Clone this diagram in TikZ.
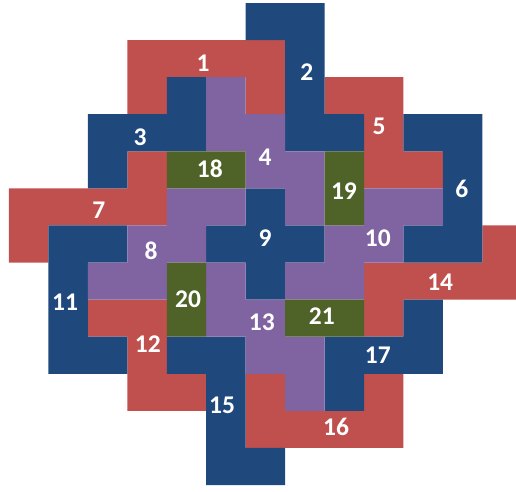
\documentclass[tikz,border=0pt]{standalone}
\usepackage{fontspec}
\setsansfont{Carlito}
\usepackage{tikz}

\definecolor{pcred}{HTML}{C0504D}
\definecolor{pcblue}{HTML}{1F497D}
\definecolor{pcpurple}{HTML}{8064A2}
\definecolor{pcgreen}{HTML}{4F6228}

% one piece = one filled path of unit cells (column/row)
\newcommand{\piece}[2]{\fill[#1] \foreach \c/\r in {#2} {(\c,\r) rectangle ++(1,1)};}

\begin{document}
\begin{tikzpicture}[
        x=0.789cm, y=-0.7416cm,
        num/.style={text=white, font=\sffamily\bfseries\fontsize{14.5}{16}\selectfont, inner sep=0pt}
    ]
    \useasboundingbox (-0.228,-0.081) rectangle (12.852,13.161);
    \clip (-0.228,-0.081) rectangle (12.852,13.161);

    % red pieces
    \piece{pcred}{3/1,4/1,5/1,6/1,3/2,6/2}
    \piece{pcred}{8/2,9/2,9/3,9/4,10/4}
    \piece{pcred}{3/4,0/5,1/5,2/5,3/5,0/6}
    \piece{pcred}{12/6,9/7,10/7,11/7,12/7,9/8}
    \piece{pcred}{2/8,3/8,3/9,3/10,4/10}
    \piece{pcred}{6/10,9/10,6/11,7/11,8/11,9/11}

    % blue pieces
    \piece{pcblue}{6/0,7/0,7/1,7/2,7/3,8/3}
    \piece{pcblue}{4/2,2/3,3/3,4/3,2/4}
    \piece{pcblue}{10/3,11/3,11/4,11/5,10/6,11/6}
    \piece{pcblue}{6/5,5/6,6/6,7/6,6/7}
    \piece{pcblue}{1/6,2/6,1/7,1/8,1/9,2/9}
    \piece{pcblue}{10/8,8/9,9/9,10/9,8/10}
    \piece{pcblue}{4/9,5/9,5/10,5/11,5/12,6/12}

    % purple pieces
    \piece{pcpurple}{5/2,5/3,6/3,6/4,7/4,7/5}
    \piece{pcpurple}{4/5,5/5,3/6,4/6,2/7,3/7}
    \piece{pcpurple}{9/5,10/5,8/6,9/6,7/7,8/7}
    \piece{pcpurple}{5/7,5/8,6/8,6/9,7/9,7/10}

    % green pieces
    \piece{pcgreen}{4/4,5/4}
    \piece{pcgreen}{8/4,8/5}
    \piece{pcgreen}{4/7,4/8}
    \piece{pcgreen}{7/8,8/8}

    % numbers
    \node[num] (n1) at (4.92,1.62) {1};
    \node[num] (n2) at (7.55,1.86) {2};
    \node[num] (n3) at (3.32,3.61) {3};
    \node[num] (n4) at (6.49,4.15) {4};
    \node[num] (n5) at (9.38,3.32) {5};
    \node[num] (n6) at (11.48,5.02) {6};
    \node[num] (n7) at (2.28,5.58) {7};
    \node[num] (n8) at (3.60,6.69) {8};
    \node[num] (n9) at (6.49,6.34) {9};
    \node[num] (n10) at (9.35,6.34) {10};
    \node[num] (n11) at (1.42,8.06) {11};
    \node[num] (n12) at (3.52,9.20) {12};
    \node[num] (n13) at (6.41,8.60) {13};
    \node[num] (n14) at (10.93,7.52) {14};
    \node[num] (n15) at (5.40,10.84) {15};
    \node[num] (n16) at (8.29,11.43) {16};
    \node[num] (n17) at (9.35,9.49) {17};
    \node[num] (n18) at (5.09,4.48) {18};
    \node[num] (n19) at (8.49,5.07) {19};
    \node[num] (n20) at (4.54,7.98) {20};
    \node[num] (n21) at (7.93,8.44) {21};
\end{tikzpicture}
\end{document}
